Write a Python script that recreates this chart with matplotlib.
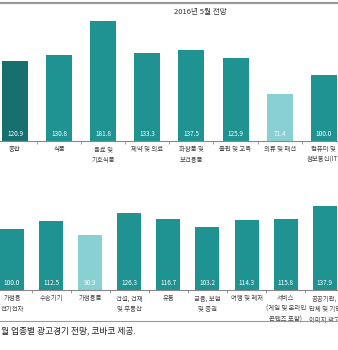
import numpy as np
import matplotlib.pyplot as plt
from matplotlib.lines import Line2D

plt.rcParams['font.family'] = ['Noto Sans CJK KR', 'DejaVu Sans']

# top row (2016년 5월 전망)
top_labels = ['종합', '식품', '음료 및\n기호식품', '제약 및 의료', '화장품 및\n보건용품',
              '출판 및 교육', '의류 및 패션', '컴퓨터 및\n정보통신(IT)']
top_values = [120.9, 130.8, 181.8, 133.3, 137.5, 125.9, 71.4, 100.0]
# bottom row
bot_labels = ['가정용\n전기전자', '수송기기', '가정용품', '건설, 건재\n및 부동산', '유통',
              '금융, 보험\n및 증권', '여행 및 레저', '서비스\n(게임 및 온라인\n콘텐츠 포함)',
              '공공기관,\n단체 및 기업\n이미지 광고']
bot_values = [100.0, 112.5, 90.9, 126.3, 116.7, 103.2, 114.3, 115.8, 137.9]

dark = '#17706e'
mid = '#1f9292'
light = '#88d0d1'
W, H = 338, 350

def bar_colors(vals, first_dark):
    cols = []
    for i, v in enumerate(vals):
        if first_dark and i == 0:
            cols.append(dark)
        elif v < 100:
            cols.append(light)
        else:
            cols.append(mid)
    return cols

fig = plt.figure(figsize=(W / 100, H / 100), dpi=100)

def draw_row(vals, labels, x0, step, bw, base, top, scale, first_dark):
    # axes in pixel coords -> figure fraction
    left = -x0 / step
    right = (W - x0) / step
    ax = fig.add_axes([0, (H - base) / H, 1, (base - top) / H])
    ax.set_xlim(left, right)
    ax.set_ylim(0, (base - top) / scale)
    x = np.arange(len(vals))
    ax.bar(x, vals, width=bw / step, color=bar_colors(vals, first_dark), zorder=2)
    for xi, v in zip(x, vals):
        ax.text(xi, 7 / scale, f'{v:.1f}', color='white', ha='center', va='center',
                fontsize=4.6, zorder=3)
    for s in ['top', 'right', 'left']:
        ax.spines[s].set_visible(False)
    ax.spines['bottom'].set_color('#888888')
    ax.spines['bottom'].set_linewidth(0.8)
    ax.set_yticks([])
    ax.set_xticks(x)
    ax.set_xticklabels(labels, fontsize=4.6, color='#444444', linespacing=1.45)
    ax.tick_params(axis='x', which='major', length=0, pad=3)
    ax.set_xticks(x[:-1] + 0.5, minor=True)
    ax.tick_params(axis='x', which='minor', length=2, width=0.6, color='#888888', direction='out')
    return ax

draw_row(top_values, top_labels, 15, 44.1, 26, 141, 15, 0.66, True)
draw_row(bot_values, bot_labels, 12, 39.1, 24, 290, 175, 0.61, False)

# top rule and title
fig.add_artist(Line2D([0, 1], [1 - 3 / H, 1 - 3 / H], color='#9a9a9a', lw=1.6))
fig.text(200 / W, 1 - 12 / H, '2016년 5월 전망', ha='center', va='center', fontsize=5.5, color='#333333')

# bottom rule and caption
fig.add_artist(Line2D([0, 1], [1 - 321 / H, 1 - 321 / H], color='#9a9a9a', lw=0.8))
fig.text(1 / W, 1 - 331 / H, '월 업종별 광고경기 전망, 코바코 제공.', ha='left', va='center',
         fontsize=6.3, color='#222222')

fig.savefig('out.png', dpi=100)
